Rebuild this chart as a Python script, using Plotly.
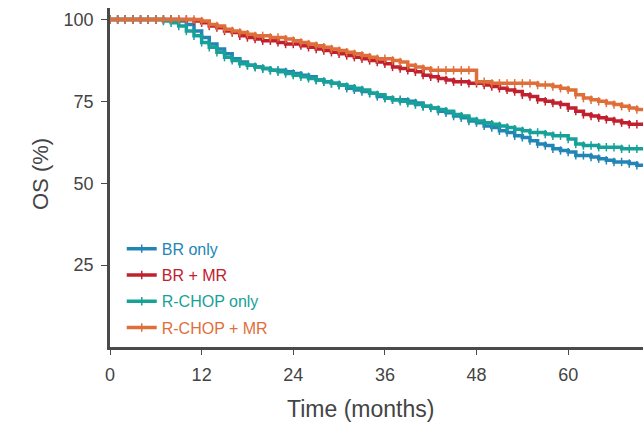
import plotly.graph_objects as go

# Overall survival (%) by month for each treatment arm
months = list(range(0, 71))

br_only = [100, 100, 100, 100, 100, 100, 100, 100, 100, 99.5,
           98.5, 96.5, 94.5, 92.5, 91, 89.5, 88, 87, 86, 85.5,
           85, 84.5, 84.5, 84, 83.5, 83, 82.5, 81.5, 81, 80.5,
           80, 79, 78.5, 78, 77.5, 76.5, 76, 75.5, 75.5, 75,
           74.5, 73.5, 73, 72, 71.5, 70.5, 70, 69, 68.5, 67.5,
           67, 66, 65.5, 64.5, 64, 63, 62, 61.5, 60.5, 60,
           59.5, 58.5, 58.5, 58, 57.5, 57, 56.5, 56.5, 56, 55.5,
           55.5]

br_mr = [100, 100, 100, 100, 100, 100, 100, 100, 100, 100,
         100, 99.5, 99, 98, 97.5, 96.5, 96, 95, 94.5, 94,
         93.5, 93.5, 93, 92.5, 92.5, 92, 91.5, 91, 90.5, 90,
         89.5, 89, 88.5, 88, 87.5, 87, 86.5, 85.5, 85, 84.5,
         84, 83, 82.5, 82, 81.5, 81, 81, 80.5, 80.5, 80,
         79.5, 79, 78.5, 78, 77, 76.5, 75.5, 75, 74.5, 74,
         73, 72, 71, 70.5, 70, 69.5, 69, 68.5, 68, 68,
         67.5]

rchop_only = [100, 100, 100, 100, 100, 100, 100, 99.5, 99, 98,
              96.5, 95, 93, 91.5, 90, 88.5, 87.5, 86.5, 86, 85.5,
              85, 84.5, 84, 83.5, 83, 82.5, 82, 81.5, 81, 80.5,
              80, 79.5, 79, 78.5, 77.5, 77, 76, 75.5, 75, 74.5,
              74, 73.5, 73, 72.5, 72, 71, 70.5, 69.5, 69, 68.5,
              68, 67.5, 67, 66.5, 66, 65.5, 65.5, 65, 64.5, 64.5,
              63.5, 62, 61.5, 61.5, 61, 61, 61, 60.5, 60.5, 60.5,
              60]

rchop_mr = [100, 100, 100, 100, 100, 100, 100, 100, 100, 100,
            100, 100, 99.5, 98.5, 98, 97, 96.5, 96, 95.5, 95,
            95, 94.5, 94.5, 94, 93.5, 93, 92.5, 92, 91.5, 91,
            90.5, 90, 89.5, 89, 88.5, 88, 88, 87.5, 87, 86,
            85.5, 85, 84.5, 84.5, 84.5, 84.5, 84.5, 84.5, 81, 81,
            80.5, 80.5, 80.5, 80.5, 80.5, 80.5, 80, 80, 79.5, 79,
            78.5, 77, 76, 75.5, 75, 74.5, 74, 73.5, 73, 72.5,
            72]

series = [
    ("BR only", br_only, "#2385b6"),
    ("BR + MR", br_mr, "#c1202f"),
    ("R-CHOP only", rchop_only, "#17a199"),
    ("R-CHOP + MR", rchop_mr, "#df6f3a"),
]

x_ticks = [0, 12, 24, 36, 48, 60]
y_ticks = [25, 50, 75, 100]

fig = go.Figure()
for i, (name, vals, color) in enumerate(series):
    fig.add_trace(go.Scatter(
        x=months, y=vals, mode="lines+markers",
        name=f"<span style='color:{color}'>{name}</span>",
        legendgroup=f"g{i}",
        line=dict(color=color, width=3.5, shape="hv"),
        marker=dict(symbol="line-ns", size=6,
                    line=dict(color=color, width=1.5)),
    ))

axis_color = "#4a4a4a"
text_color = "#444"
fig.update_layout(
    width=643, height=425,
    margin=dict(l=110, r=0, t=8, b=78),
    paper_bgcolor="white", plot_bgcolor="white",
    font=dict(family="Liberation Sans, Arial, sans-serif", color=text_color),
    showlegend=True,
    legend=dict(x=0.022, y=0.34, xanchor="left", yanchor="top",
                bgcolor="rgba(0,0,0,0)", font=dict(size=16),
                tracegroupgap=2.5, itemwidth=30),
    xaxis=dict(range=[0, 69.8], tickvals=x_ticks, showgrid=False,
               zeroline=False, showline=True, linecolor=axis_color,
               linewidth=2.5, ticks="outside", ticklen=5, tickwidth=1,
               tickcolor=axis_color, tickfont=dict(size=18, color=text_color),
               ticklabelstandoff=5),
    yaxis=dict(range=[0, 103.5], tickvals=y_ticks, showgrid=False,
               zeroline=False, showline=True, linecolor=axis_color,
               linewidth=2.5, ticks="outside", ticklen=6, tickwidth=1,
               tickcolor=axis_color, tickfont=dict(size=18, color=text_color),
               ticklabelstandoff=4),
    annotations=[
        dict(text="Time (months)", xref="paper", yref="paper",
             x=(360 - 110) / 533, y=-(409 - 347) / 339,
             xanchor="center", yanchor="middle", showarrow=False,
             font=dict(size=23, color=text_color)),
        dict(text="OS (%)", xref="paper", yref="paper",
             x=-(110 - 40) / 533, y=(347 - 174) / 339,
             xanchor="center", yanchor="middle", showarrow=False,
             textangle=-90, font=dict(size=22, color=text_color)),
    ],
)

fig.write_html("out.html")
